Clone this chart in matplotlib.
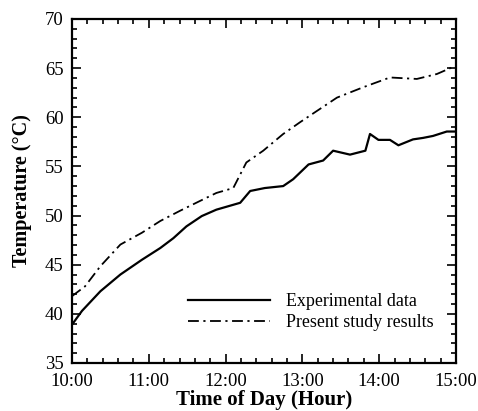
import matplotlib
matplotlib.use('Agg')
import matplotlib.pyplot as plt
from matplotlib.ticker import MultipleLocator, FuncFormatter

# time in hours, temperature in deg C
exp_t = [10.0, 10.13, 10.37, 10.63, 10.91, 11.15, 11.32, 11.49, 11.69, 11.88, 12.19,
         12.32, 12.51, 12.75, 12.88, 13.08, 13.27, 13.40, 13.62, 13.82, 13.88, 13.99,
         14.14, 14.25, 14.44, 14.57, 14.70, 14.88, 15.0]
exp_T = [38.9, 40.3, 42.3, 44.0, 45.5, 46.7, 47.7, 48.9, 49.95, 50.6, 51.3,
         52.5, 52.8, 53.0, 53.7, 55.2, 55.6, 56.6, 56.2, 56.6, 58.3, 57.7,
         57.7, 57.15, 57.75, 57.9, 58.1, 58.55, 58.55]
sim_t = [10.0, 10.17, 10.37, 10.63, 10.91, 11.15, 11.41, 11.67, 11.88, 12.10, 12.27,
         12.49, 12.75, 12.97, 13.19, 13.45, 13.79, 14.14, 14.49, 14.75, 15.0]
sim_T = [41.8, 42.8, 44.85, 47.05, 48.25, 49.45, 50.5, 51.5, 52.3, 52.8, 55.4,
         56.6, 58.3, 59.5, 60.65, 62.0, 63.05, 64.05, 63.9, 64.4, 65.25]

plt.rcParams['font.family'] = 'Liberation Serif'
fig = plt.figure(figsize=(4.78, 4.11), dpi=100)
ax = fig.add_axes([0.1506, 0.1168, 0.8034, 0.837])

ax.plot(exp_t, exp_T, color='black', lw=1.6, label='Experimental data')
ax.plot(sim_t, sim_T, color='black', lw=1.3, linestyle=(0, (6, 2.5, 1.2, 2.5)),
        label='Present study results')

ax.set_xlim(10, 15)
ax.set_ylim(35, 70)
ax.xaxis.set_major_locator(MultipleLocator(1))
ax.xaxis.set_minor_locator(MultipleLocator(0.2))
ax.yaxis.set_major_locator(MultipleLocator(5))
ax.yaxis.set_minor_locator(MultipleLocator(1))
ax.xaxis.set_major_formatter(FuncFormatter(lambda v, p: '%d:00' % int(round(v))))
ax.tick_params(which='both', direction='in', top=True, right=True, labelsize=13.5, width=1.2)
ax.tick_params(which='major', length=6.5)
ax.tick_params(which='minor', length=3.5)
ax.tick_params(axis='x', pad=7)
ax.tick_params(axis='y', pad=6)
for s in ax.spines.values():
    s.set_linewidth(1.6)

ax.set_xlabel('Time of Day (Hour)', fontsize=15, fontweight='bold', labelpad=0)
ax.set_ylabel('Temperature (\u00b0C)', fontsize=14.5, fontweight='bold', labelpad=9)

ax.legend(loc='lower left', bbox_to_anchor=(0.26, 0.045), frameon=False, fontsize=12.9,
          handlelength=4.6, handletextpad=0.85, labelspacing=0.25)

fig.savefig('out.png', dpi=100)
